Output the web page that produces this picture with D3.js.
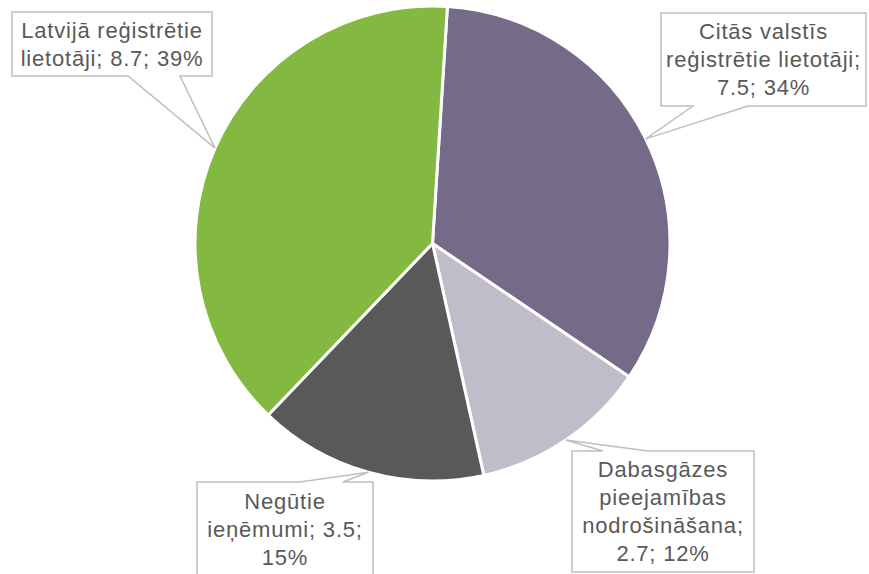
<!DOCTYPE html>
<html>
<head>
<meta charset="utf-8">
<script src="https://cdn.jsdelivr.net/npm/d3@7"></script>
<style>
  html, body { margin: 0; padding: 0; background: #fff; }
  svg { display: block; }
</style>
</head>
<body>
<svg id="chart" width="869" height="574"></svg>
<script>
// ---- data ----
const categories = [
  "Citās valstīs reģistrētie lietotāji",
  "Dabasgāzes pieejamības nodrošināšana",
  "Negūtie ieņēmumi",
  "Latvijā reģistrētie lietotāji"
];
const values = [7.5, 2.7, 3.5, 8.7];
const percents = ["34%", "12%", "15%", "39%"];
const labelLines = [
  ["Citās valstīs", "reģistrētie lietotāji;", "7.5; 34%"],
  ["Dabasgāzes", "pieejamības", "nodrošināšana;", "2.7; 12%"],
  ["Negūtie", "ieņēmumi; 3.5;", "15%"],
  ["Latvijā reģistrētie", "lietotāji; 8.7; 39%"]
];
const colors = ["#756B88", "#C1BCC9", "#595959", "#84B941"];

// ---- layout ----
const W = 869, H = 574;
const cx = 432.5, cy = 243.5, R = 237.5;
const startOffset = 3.6 * Math.PI / 180;

// callout boxes: x, y, w, h, pointer base x1, x2, side of pointer
const boxes = [
  { x: 661, y: 13, w: 205, h: 93, p1: 693, p2: 748, side: "bottom" },
  { x: 572, y: 451, w: 182, h: 121, p1: 603, p2: 648, side: "top" },
  { x: 197, y: 482, w: 176, h: 95, p1: 300, p2: 343, side: "top" },
  { x: 12, y: 12, w: 200, h: 64, p1: 128, p2: 180, side: "bottom" }
];

const svg = d3.select("#chart");
const g = svg.append("g").attr("transform", `translate(${cx},${cy})`);

const pie = d3.pie().sort(null).value(d => d)
  .startAngle(startOffset).endAngle(startOffset + 2 * Math.PI);
const arcs = pie(values);
const arc = d3.arc().innerRadius(0).outerRadius(R);

g.selectAll("path.slice").data(arcs).enter().append("path")
  .attr("class", "slice")
  .attr("d", arc)
  .attr("fill", (d, i) => colors[i])
  .attr("stroke", "#fff")
  .attr("stroke-width", 3)
  .attr("stroke-linejoin", "round");

// callouts
const fontSize = 22, lh = 28;
arcs.forEach((a, i) => {
  const mid = (a.startAngle + a.endAngle) / 2;
  const tx = cx + R * Math.sin(mid);
  const ty = cy - R * Math.cos(mid);
  const b = boxes[i];
  let pts;
  if (b.side === "bottom") {
    pts = [[b.x, b.y], [b.x + b.w, b.y], [b.x + b.w, b.y + b.h],
           [b.p2, b.y + b.h], [tx, ty], [b.p1, b.y + b.h], [b.x, b.y + b.h]];
  } else {
    pts = [[b.x, b.y], [b.p1, b.y], [tx, ty], [b.p2, b.y],
           [b.x + b.w, b.y], [b.x + b.w, b.y + b.h], [b.x, b.y + b.h]];
  }
  svg.append("path")
    .attr("d", d3.line()(pts) + "Z")
    .attr("fill", "#fff")
    .attr("stroke", "#BFBFBF")
    .attr("stroke-width", 1.5);

  const lines = labelLines[i];
  const centerY = b.y + b.h / 2;
  const first = centerY - (lines.length - 1) * lh / 2 + 0.35 * fontSize;
  const t = svg.append("text")
    .attr("font-family", "Arial, 'Liberation Sans', sans-serif")
    .attr("font-size", fontSize)
    .attr("letter-spacing", 0.8)
    .attr("fill", "#595959")
    .attr("text-anchor", "middle");
  lines.forEach((ln, k) => {
    t.append("tspan")
      .attr("x", b.x + b.w / 2)
      .attr("y", first + k * lh)
      .text(ln);
  });
});
</script>
</body>
</html>
